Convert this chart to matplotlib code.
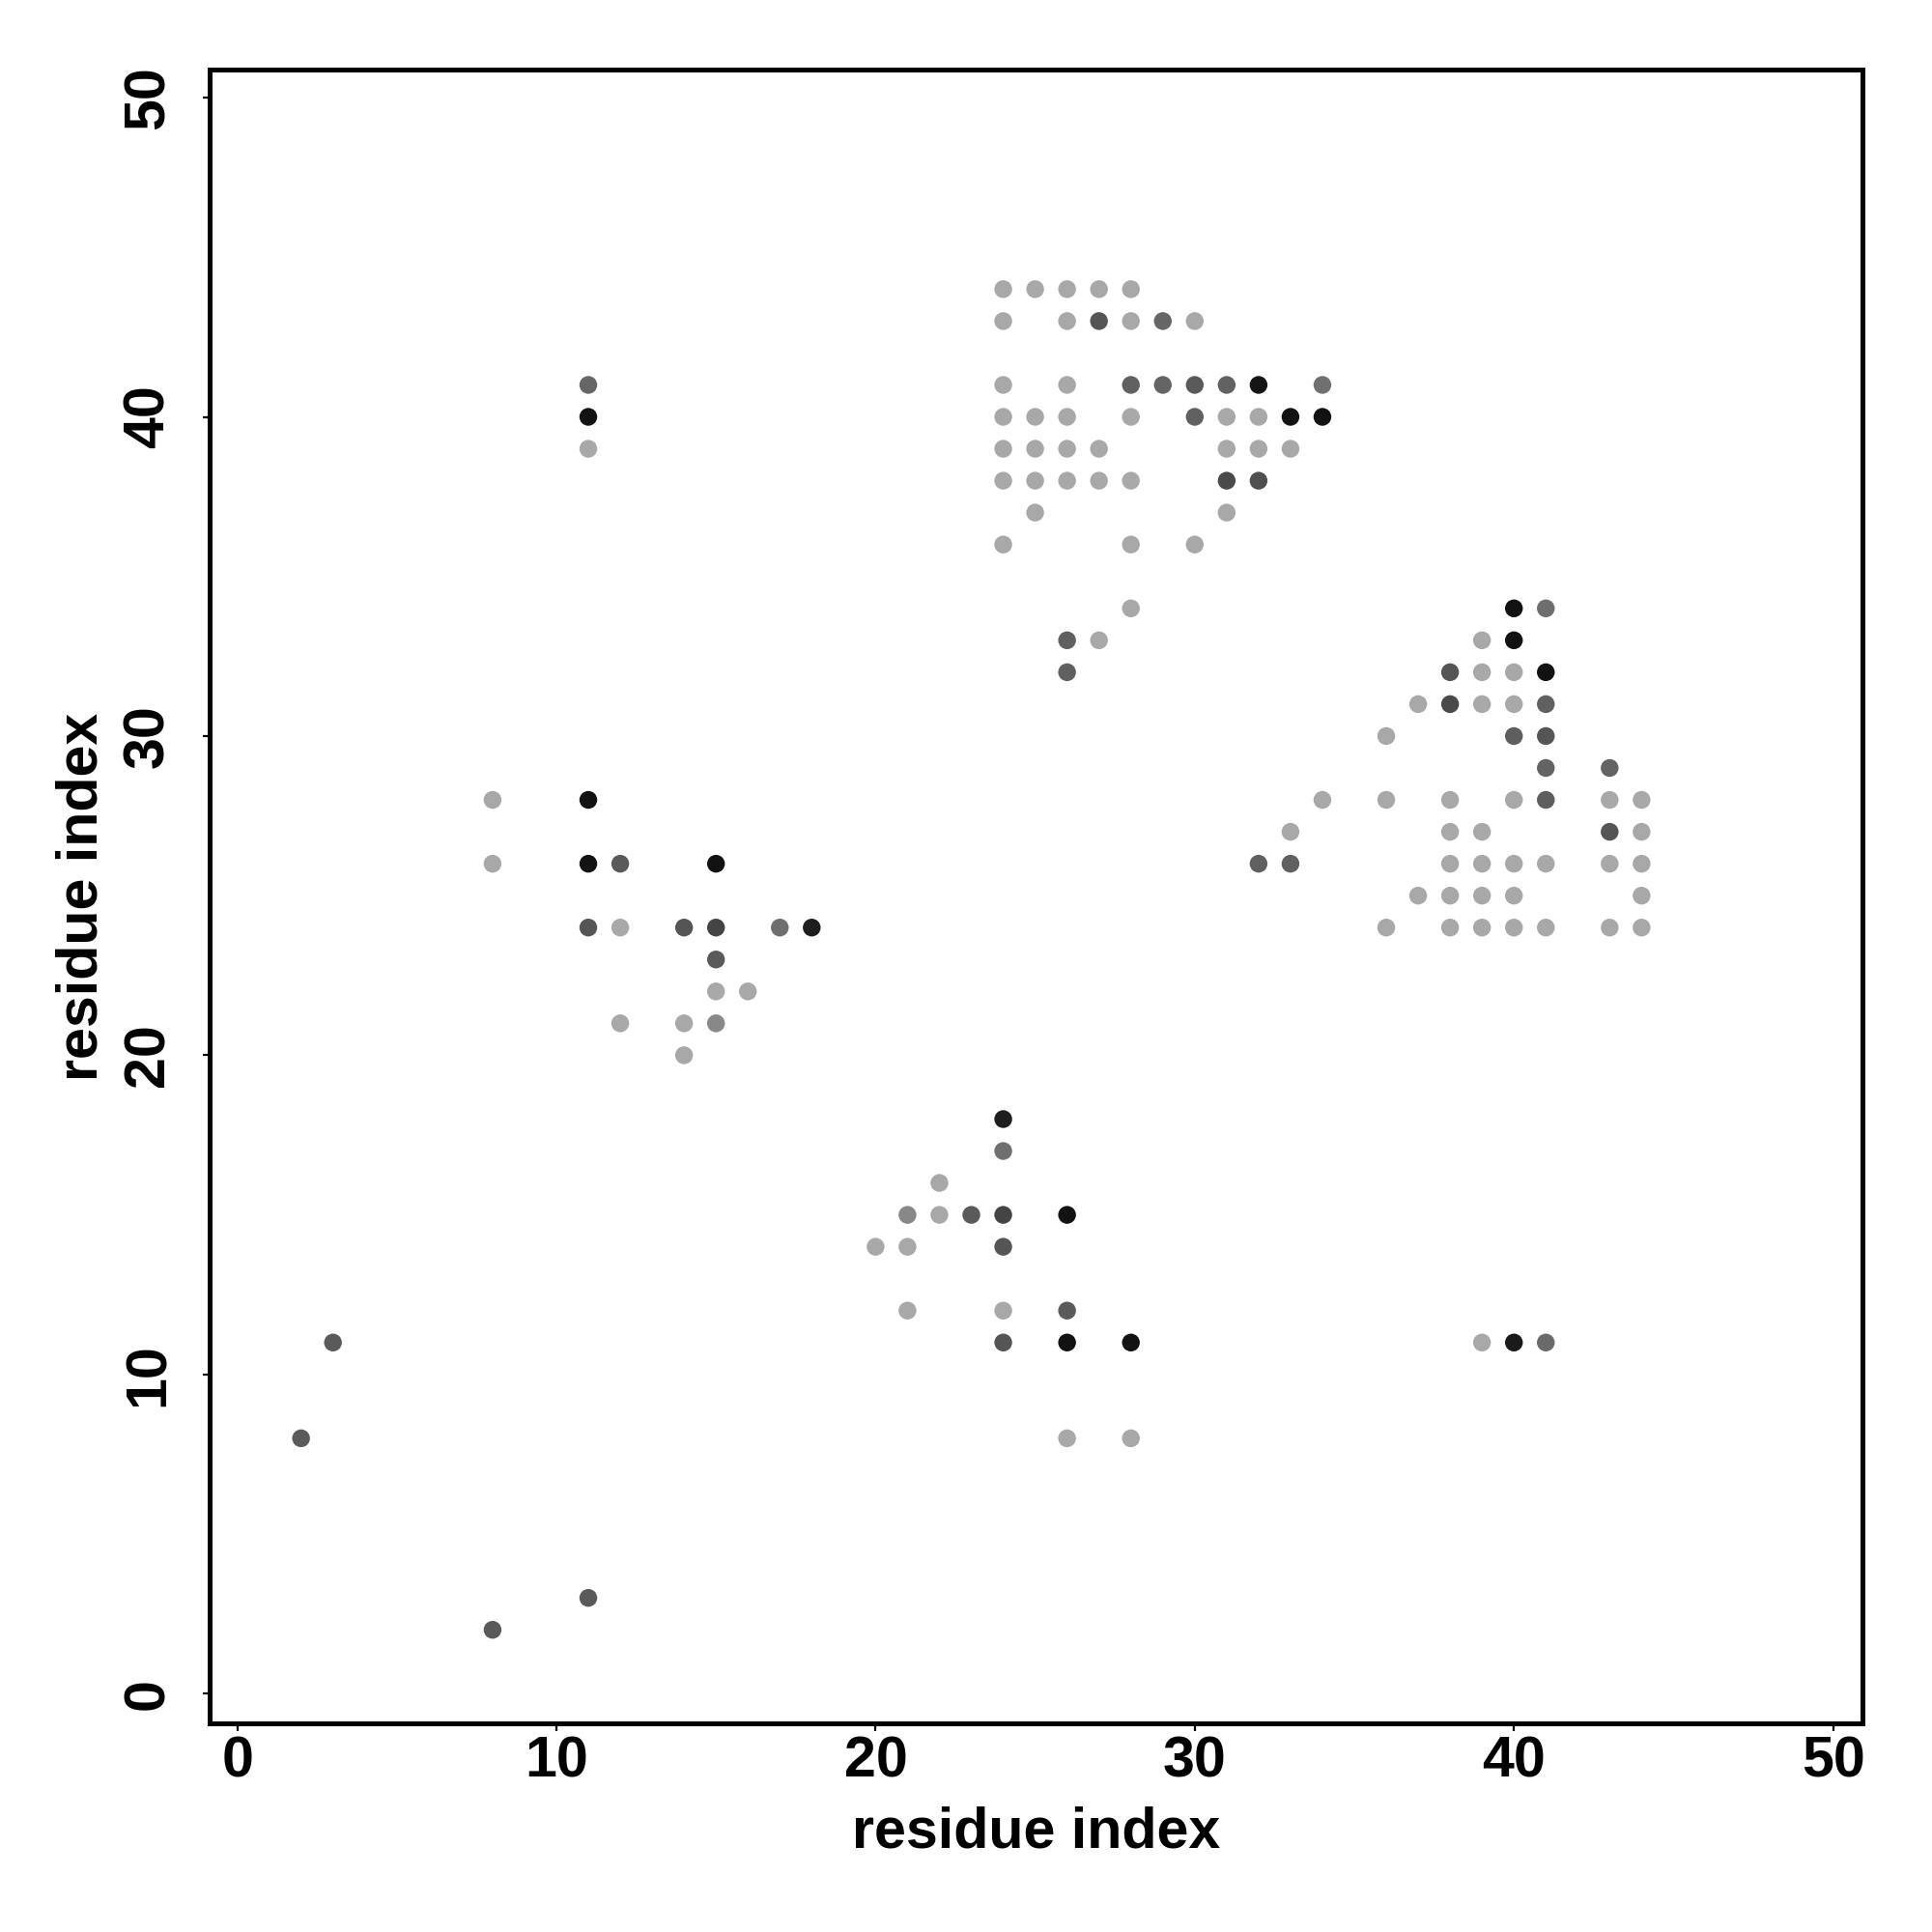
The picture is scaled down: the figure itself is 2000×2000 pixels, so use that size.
import matplotlib
matplotlib.use("Agg")
import matplotlib.pyplot as plt

# contact map: residue i, residue j, grey level (0 = black, 255 = white)
L = 168  # light contacts
B = 18   # strongest contacts

res_i = [
    2, 3, 8, 11, 11, 11, 11, 39, 40, 41,
    # left-middle group
    8, 11, 8, 11, 12, 15, 11, 12, 14, 15, 17, 18, 15, 15, 16, 12, 14, 15, 14,
    # lower group
    24, 24, 22, 21, 22, 23, 24, 26, 20, 21, 24, 21, 24, 26, 24, 26, 28, 26, 28,
    # upper group
    24, 25, 26, 27, 28,
    24, 26, 27, 28, 29, 30,
    24, 26, 28, 29, 30, 31, 32, 34,
    24, 25, 26, 28, 30, 31, 32, 33, 34,
    24, 25, 26, 27, 31, 32, 33,
    24, 25, 26, 27, 28, 31, 32,
    25, 31,
    24, 28, 30,
    28,
    26, 27,
    26,
    # right group
    40, 41,
    39, 40,
    38, 39, 40, 41,
    37, 38, 39, 40, 41,
    36, 40, 41,
    41, 43,
    34, 36, 38, 40, 41, 43, 44,
    33, 38, 39, 43, 44,
    32, 33, 38, 39, 40, 41, 43, 44,
    37, 38, 39, 40, 44,
    36, 38, 39, 40, 41, 43, 44,
]

res_j = [
    8, 11, 2, 3, 41, 40, 39, 11, 11, 11,
    28, 28, 26, 26, 26, 26, 24, 24, 24, 24, 24, 24, 23, 22, 22, 21, 21, 21, 20,
    18, 17, 16, 15, 15, 15, 15, 15, 14, 14, 14, 12, 12, 12, 11, 11, 11, 8, 8,
    44, 44, 44, 44, 44,
    43, 43, 43, 43, 43, 43,
    41, 41, 41, 41, 41, 41, 41, 41,
    40, 40, 40, 40, 40, 40, 40, 40, 40,
    39, 39, 39, 39, 39, 39, 39,
    38, 38, 38, 38, 38, 38, 38,
    37, 37,
    36, 36, 36,
    34,
    33, 33,
    32,
    34, 34,
    33, 33,
    32, 32, 32, 32,
    31, 31, 31, 31, 31,
    30, 30, 30,
    29, 29,
    28, 28, 28, 28, 28, 28, 28,
    27, 27, 27, 27, 27,
    26, 26, 26, 26, 26, 26, 26, 26,
    25, 25, 25, 25, 25,
    24, 24, 24, 24, 24, 24, 24,
]

shade = [
    90, 90, 90, 90, 102, B, L, L, 26, 106,
    L, B, L, B, 90, B, 85, L, 85, 68, 110, 30, 90, L, L, L, L, 136, L,
    30, 112, L, 136, L, 90, 68, B, L, L, 85, L, L, 90, 85, B, B, L, L,
    L, L, L, L, L,
    L, L, 85, L, 102, L,
    L, L, 96, 101, 90, 98, 21, 112,
    L, L, L, L, 96, L, L, B, B,
    L, L, L, L, L, L, L,
    L, L, L, L, L, 74, 79,
    L, L,
    L, L, L,
    L,
    96, L,
    96,
    B, 110,
    L, B,
    85, L, L, B,
    L, 74, L, L, 96,
    L, 94, 85,
    99, 99,
    L, L, L, L, 94, L, L,
    L, L, L, 85, L,
    96, 96, L, L, L, L, L, L,
    L, L, L, L, L,
    L, L, L, L, L, L, L,
]

colors = [(g / 255, g / 255, g / 255) for g in shade]

plt.rcParams["font.family"] = ["Liberation Sans", "DejaVu Sans"]
plt.rcParams["font.weight"] = "bold"

fig = plt.figure(figsize=(10, 10), dpi=200)
ax = fig.add_axes([0.10825, 0.108, 0.85575, 0.856])

ax.scatter(res_i, res_j, c=colors, s=44, linewidths=0, zorder=3)

ax.set_xlim(-0.88, 50.92)
ax.set_ylim(-0.93, 50.88)
ax.set_xticks([0, 10, 20, 30, 40, 50])
ax.set_yticks([0, 10, 20, 30, 40, 50])

for sp in ax.spines.values():
    sp.set_linewidth(1.8)

ax.tick_params(axis="both", direction="out", length=2.7, width=0.8,
               labelsize=21.3)
ax.tick_params(axis="x", pad=1.8)
ax.tick_params(axis="y", pad=9.9, labelrotation=90)
for lab in ax.get_yticklabels():
    lab.set_verticalalignment("center")
    lab.set_fontweight("bold")
for lab in ax.get_xticklabels():
    lab.set_fontweight("bold")

ax.set_xlabel("residue index", fontsize=21.3, fontweight="bold", va="baseline")
ax.xaxis.set_label_coords(0.5, -0.0748)
ax.set_ylabel("residue index", fontsize=21.3, fontweight="bold",
              va="baseline", ha="center", rotation_mode="anchor")
ax.yaxis.set_label_coords(-0.068, 0.5)

fig.savefig("out.png", dpi=200)
